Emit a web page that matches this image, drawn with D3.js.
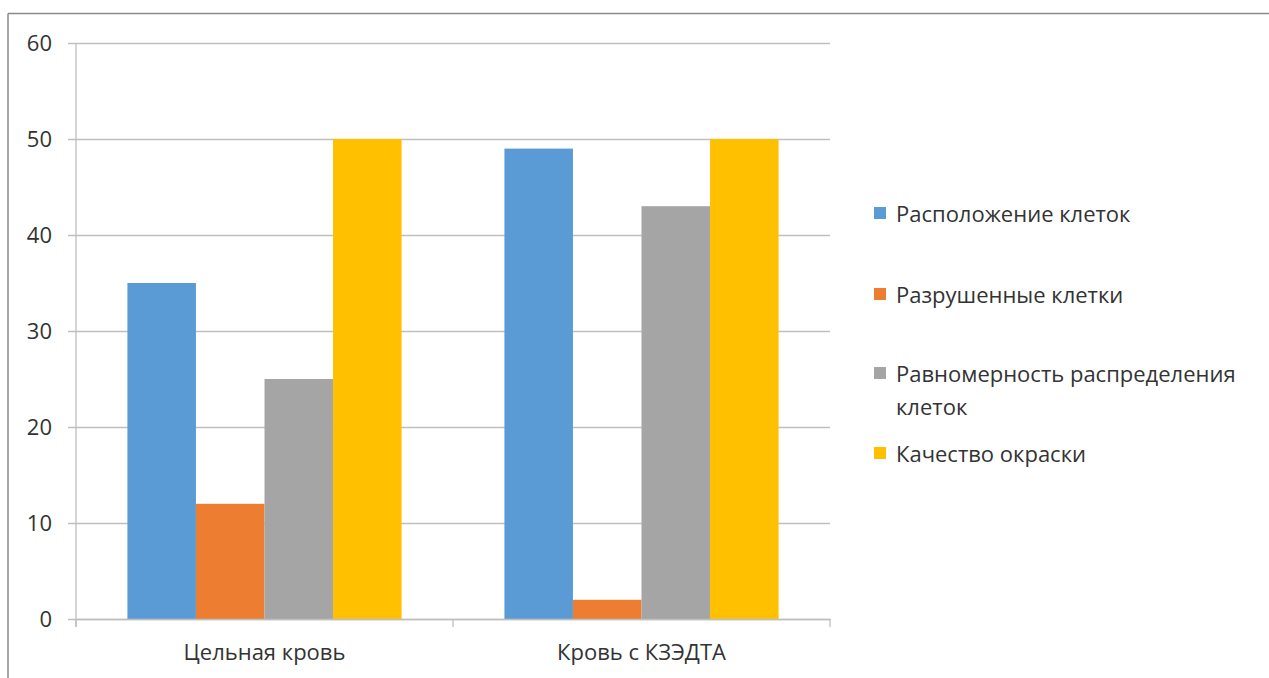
<!DOCTYPE html>
<html>
<head>
<meta charset="utf-8">
<script src="https://cdn.jsdelivr.net/npm/d3@7"></script>
<style>
  html, body { margin: 0; padding: 0; background: #fff; }
  svg text { font-family: "Open Sans", "Noto Sans", sans-serif; fill: #333; }
</style>
</head>
<body>
<svg id="chart" width="1269" height="678"></svg>
<script>
// Groups along the x axis
const categories = ["Цельная кровь", "Кровь с КЗЭДТА"];
// Series shown in each group
const seriesNames = [
  "Расположение клеток",
  "Разрушенные клетки",
  "Равномерность распределения клеток",
  "Качество окраски"
];
const seriesColors = ["#5B9BD5", "#ED7D31", "#A5A5A5", "#FFC000"];
// Values per series, one per category
const cellArrangement = [35, 49];
const destroyedCells = [12, 2];
const uniformity = [25, 43];
const stainQuality = [50, 50];
const seriesValues = [cellArrangement, destroyedCells, uniformity, stainQuality];
// Y axis ticks
const yTicks = [0, 10, 20, 30, 40, 50, 60];

const FONT = 22;
const svg = d3.select("#chart");
const margin = { left: 76, right: 830, top: 43, bottom: 619 };

// Outer chart frame
svg.append("line").attr("x1", 8).attr("x2", 1269).attr("y1", 13.5).attr("y2", 13.5)
  .attr("stroke", "#8a8a8a").attr("stroke-width", 1.5);
svg.append("line").attr("x1", 8).attr("x2", 8).attr("y1", 13.5).attr("y2", 678)
  .attr("stroke", "#8a8a8a").attr("stroke-width", 1.5);

const x0 = d3.scaleBand().domain(categories).range([margin.left, margin.right]).paddingInner(0).paddingOuter(0);
const x1 = d3.scaleBand().domain(d3.range(seriesNames.length))
  .range([0, x0.bandwidth()]).paddingOuter(0.75).paddingInner(0);
const y = d3.scaleLinear().domain([0, 60]).range([margin.bottom, margin.top]);

// Horizontal gridlines with outward tick stubs
const yAxis = d3.axisLeft(y).tickValues(yTicks)
  .tickSize(-(margin.right - margin.left)).tickPadding(16).tickSizeOuter(0);
const gy = svg.append("g").attr("transform", `translate(${margin.left},0)`).call(yAxis);
gy.select(".domain").remove();
gy.selectAll(".tick line").attr("stroke", "#bfbfbf").attr("stroke-width", 1.3)
  .attr("x1", -8);
gy.selectAll(".tick text").attr("font-size", FONT).attr("font-family", null).attr("x", -24).style("fill", "#333");

// Bars
const groups = svg.append("g").selectAll("g").data(categories).join("g")
  .attr("transform", d => `translate(${x0(d)},0)`);
groups.selectAll("rect")
  .data((c, ci) => seriesValues.map((vals, si) => ({ si, v: vals[ci] })))
  .join("rect")
  .attr("x", d => x1(d.si))
  .attr("width", x1.bandwidth())
  .attr("y", d => y(d.v))
  .attr("height", d => y(0) - y(d.v))
  .attr("fill", d => seriesColors[d.si]);

// Vertical axis line
svg.append("line").attr("x1", margin.left).attr("x2", margin.left)
  .attr("y1", margin.top).attr("y2", margin.bottom + 8)
  .attr("stroke", "#bfbfbf").attr("stroke-width", 1.3);

// Category axis with boundary ticks
const gx = svg.append("g").attr("transform", `translate(0,${margin.bottom})`)
  .call(d3.axisBottom(x0).tickSize(0).tickPadding(25));
gx.attr("font-family", null);
gx.select(".domain").attr("stroke", "#bfbfbf").attr("stroke-width", 1.3);
gx.selectAll(".tick text").attr("font-size", FONT).style("fill", "#333");
const bounds = [margin.left, ...categories.map(c => x0(c) + x0.bandwidth())];
gx.selectAll(".bound").data(bounds).join("line").attr("class", "bound")
  .attr("x1", d => d).attr("x2", d => d).attr("y1", 0).attr("y2", 8)
  .attr("stroke", "#bfbfbf").attr("stroke-width", 1.3);

// Legend
const legendRows = [
  { lines: ["Расположение клеток"], y: 213 },
  { lines: ["Разрушенные клетки"], y: 294 },
  { lines: ["Равномерность распределения", "клеток"], y: 373 },
  { lines: ["Качество окраски"], y: 453 }
];
const legend = svg.append("g");
legendRows.forEach((row, i) => {
  legend.append("rect").attr("x", 874).attr("y", row.y - 6).attr("width", 12).attr("height", 12)
    .attr("fill", seriesColors[i]);
  const t = legend.append("text").attr("x", 896).attr("y", row.y).attr("font-size", FONT)
    .attr("dominant-baseline", "central");
  row.lines.forEach((ln, j) => {
    t.append("tspan").attr("x", 896).attr("dy", j === 0 ? 0 : 33).text(ln);
  });
});
</script>
</body>
</html>
